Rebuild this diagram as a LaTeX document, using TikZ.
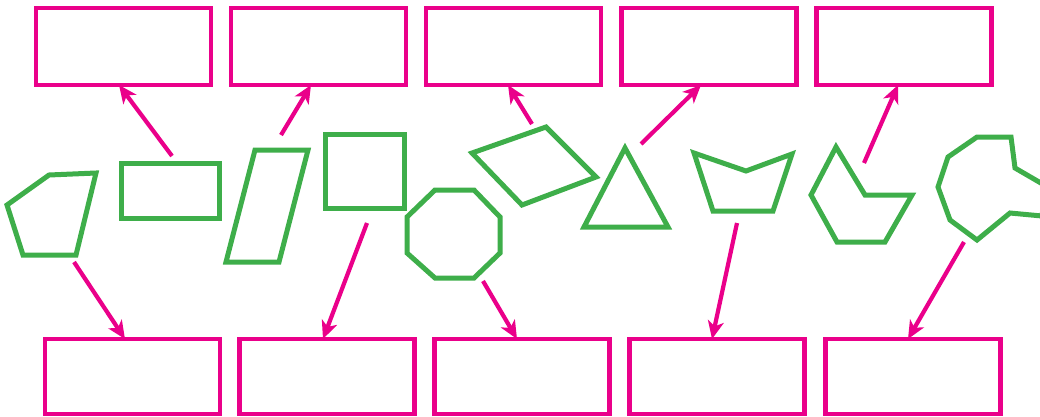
\documentclass[tikz,border=0pt]{standalone}
\usetikzlibrary{arrows.meta}
\definecolor{pinkc}{RGB}{234,0,138}
\definecolor{greenc}{RGB}{62,174,74}
\tikzset{
  box/.style={draw=pinkc,line width=4.5pt,rectangle,inner sep=0pt,outer sep=0pt,minimum width=175pt,minimum height=77pt},
  lowbox/.style={box,minimum height=75pt},
  shp/.style={draw=greenc,line width=5pt,line join=miter},
  arr/.style={draw=pinkc,line width=4.2pt,-{Stealth[length=18pt,width=16pt,inset=5pt]}}
}
\begin{document}
\begin{tikzpicture}[x=1pt,y=-1pt]
\useasboundingbox (0,0) rectangle (1040,416);
% top boxes
\node[box] (t1) at (123.5,46.5) {};
\node[box] (t2) at (318.5,46.5) {};
\node[box] (t3) at (513.5,46.5) {};
\node[box] (t4) at (709,46.5) {};
\node[box] (t5) at (904,46.5) {};
% bottom boxes
\node[lowbox] (b1) at (132.5,376.5) {};
\node[lowbox] (b2) at (327,376.5) {};
\node[lowbox] (b3) at (522,376.5) {};
\node[lowbox] (b4) at (717,376.5) {};
\node[lowbox] (b5) at (913,376.5) {};
% shapes
\draw[shp] (7,205) -- (49,175) -- (96,173) -- (76,255) -- (23,255) -- cycle;
\draw[shp] (121,163) rectangle (219,218);
\draw[shp] (255,150) -- (308,150) -- (279,262) -- (226,262) -- cycle;
\draw[shp] (325,134) rectangle (404,208);
\draw[shp] (435,190) -- (474,190) -- (500,217) -- (500,253) -- (474,278) -- (435,278) -- (407,253) -- (407,217) -- cycle;
\draw[shp] (472,153) -- (546,127) -- (596,177) -- (522,205) -- cycle;
\draw[shp] (625,148) -- (668,227) -- (584,227) -- cycle;
\draw[shp] (694,153) -- (746,171) -- (792,154) -- (773,211) -- (713,211) -- cycle;
\draw[shp] (836,147) -- (865,195) -- (912,195) -- (885,242) -- (837,242) -- (811,195) -- cycle;
\draw[shp] (977,137) -- (1011,137) -- (1015,168) -- (1046,186) -- (1042,216) -- (1010,213) -- (977,240) -- (950,220) -- (938,187) -- (948,157) -- cycle;
% arrow starts
\coordinate (a1) at (172,156);
\coordinate (a2) at (281,135);
\coordinate (a3) at (532,124);
\coordinate (a4) at (641,144);
\coordinate (a5) at (864,163);
\coordinate (c1) at (74,262);
\coordinate (c2) at (367,223);
\coordinate (c3) at (483,281);
\coordinate (c4) at (737,223);
\coordinate (c5) at (964,242);
% arrows
\draw[arr] (a1) -- ([xshift=-4.5pt]t1.south);
\draw[arr] (a2) -- ([xshift=-7.5pt]t2.south);
\draw[arr] (a3) -- ([xshift=-5.5pt]t3.south);
\draw[arr] (a4) -- ([xshift=-8pt]t4.south);
\draw[arr] (a5) -- ([xshift=-6pt]t5.south);
\draw[arr] (c1) -- ([xshift=-7.5pt]b1.north);
\draw[arr] (c2) -- ([xshift=-4pt]b2.north);
\draw[arr] (c3) -- ([xshift=-5pt]b3.north);
\draw[arr] (c4) -- ([xshift=-5pt]b4.north);
\draw[arr] (c5) -- ([xshift=-5pt]b5.north);
\end{tikzpicture}
\end{document}
